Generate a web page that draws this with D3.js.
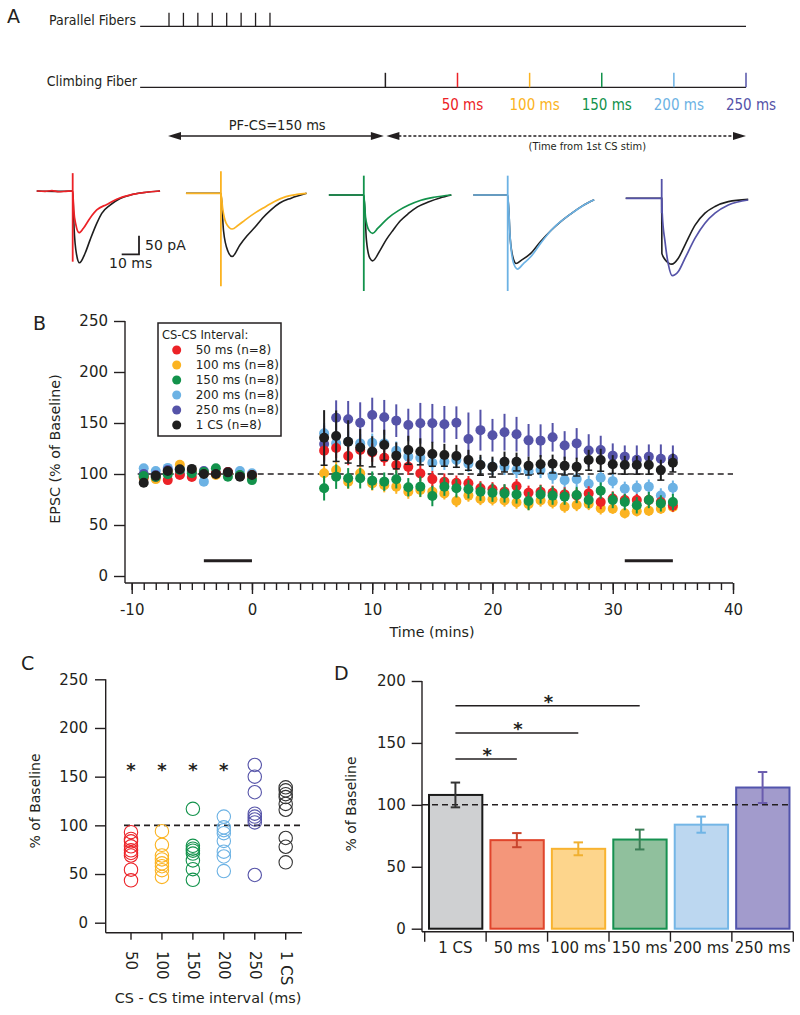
<!DOCTYPE html>
<html><head><meta charset="utf-8">
<script src="https://cdn.jsdelivr.net/npm/d3@7"></script>
<style>body{margin:0;background:#fff}svg{display:block}</style>
</head><body>
<script>
// ================= DATA =================
// Panel A: stimulation protocol (ms)
const pfPulseTimes = [0, 10, 20, 30, 40, 50, 60, 70];
const firstCsTime = 150;
const csIntervals = [50, 100, 150, 200, 250];
const intervalLabels = ["50 ms", "100 ms", "150 ms", "200 ms", "250 ms"];
const seriesColors = ["#ec2227", "#fbb321", "#12924b", "#6cb2e4", "#5553a8"];
const controlColor = "#1e1e1e";

// Panel A: example EPSC traces, [ms from CS stim, pA from baseline]
const trace50  = [[-20.8,0],[-16,-1],[-12,1],[-8,-2],[-4,-1],[0,0],[0.6,-50],[1.8,-90],[3.7,-112],[6.2,-100],[10,-73],[13.9,-51],[19.7,-36],[25.4,-22],[33,-11],[40.8,-4.5],[50.5,0]];
const ctrl50   = [[-20.8,0],[-10,-1],[0,0],[0.8,-100],[2.2,-170],[3.9,-193],[7.1,-168],[10,-132],[13.9,-87],[16.8,-60],[21.6,-38],[27.4,-20],[35,-9],[50.5,0]];
const trace100 = [[-20.2,0],[-10,0],[0,0],[1,-40],[3,-80],[6.5,-96],[10,-86],[13.9,-72],[20,-52],[25.8,-36],[31,-22],[37.6,-9],[44,-3],[49.5,0]];
const ctrl100  = [[-20.2,0],[0,0],[1.5,-100],[4,-155],[6.5,-170],[11,-139],[15,-115],[19.9,-90],[24,-67],[28.8,-45],[34,-26],[40.6,-13],[49.5,0]];
const trace150 = [[-20.2,0],[0,0],[1,-60],[3,-95],[5.1,-103],[8,-90],[14,-62],[20,-42],[26,-27],[33,-14],[40.6,-6],[50.6,0]];
const ctrl150  = [[-20.2,0],[0,0],[1.5,-120],[3.5,-170],[5.1,-177],[9.5,-148],[13,-120],[17,-94],[21,-70],[26,-49],[31,-32],[37.7,-18],[44,-8],[50.6,0]];
const trace200 = [[-19.9,0],[0,0],[1.5,-120],[3.5,-185],[5.7,-199],[9,-185],[13.3,-166],[19,-130],[25.3,-94],[31,-70],[37,-49],[43,-30],[50,-13]];
const ctrl200  = [[-19.9,0],[0,0],[1.5,-120],[3.5,-175],[4.8,-184],[8,-175],[13.3,-157],[19,-125],[25.3,-94],[31,-70],[37,-49],[43,-30],[50,-13]];
const trace250 = [[-20.8,0],[0,0],[0.3,-40],[1.9,-116],[3.9,-179],[6.1,-208],[9.6,-197],[13.5,-161],[19.3,-107],[25,-67],[30.8,-40],[38.5,-18],[50,-4.5]];
const ctrl250  = [[-20.8,0],[0,0],[0.1,-148],[2,-165],[5.8,-177],[9.6,-161],[13.5,-125],[19.3,-72],[25,-40],[30.8,-22],[38.5,-9],[50,-3]];
const stimArtifactTop = [48, 59, 52, 52, 52];
const stimArtifactBottom = [-190, -250, -258, -258, -40];
const scaleBarMs = 10, scaleBarPa = 50;

// Panel B: EPSC time course (% of baseline)
const timesB = [-9,-8,-7,-6,-5,-4,-3,-2,-1,0, 6,7,8,9,10,11,12,13,14,15,16,17,18,19,20,21,22,23,24,25,26,27,28,29,30,31,32,33,34,35];
const epsc50  = [97,97,94,99,97,100.7,100.7,102,98.4,99, 122.9,125.5,117.6,123.5,121,116,108.8,107,100.6,95,92.5,91.5,91,86,85,82.7,88,81.6,82.6,81.6,80,79,81,72.5,76,74.5,74.5,74.5,72.5,69];
const epsc100 = [96,95,102,109,104,101,99,101,98,98, 100.7,104,92.5,100.7,90.8,89,87.6,82.7,84.3,82.7,81,73.5,78.8,75.5,75.2,74,72,70.5,74,72.2,68,69.6,70.6,66.3,66,61.5,63.5,64,66,67.6];
const epsc150 = [98,97,99.7,104,100.7,102,105.6,97.4,99,94, 86,97.4,95.8,95.8,93.5,92.5,94.8,87,87.6,78.4,87.6,86,85,82.7,81.7,81,80,73.5,80,78.8,77.8,79.4,74.5,83.7,74.5,72.5,69.3,74.5,71.2,72.5];
const epsc200 = [105.6,103,106,105.6,103,92.5,100.7,100.7,103,100.7, 139.9,130,131.7,130,130.7,130,122.9,117,116,111,112,113.7,110,108.8,107.2,107,104,103,104,98.4,94,95,90.5,96.4,93,85.5,86.6,87.6,79,86.6];
const epsc250 = [100,99,104,100,102,103,100,102,98.4,97.4, 129.4,155.2,153.6,150.3,157.8,155.6,152.3,148,149.7,149.7,148.7,150.3,134.3,143,138,141,139,133,132.7,136,128,130,123,123.5,118,117,114,117,115,115];
const epsc1CS = [91.5,98.4,103,104.6,105,100,100,101.6,97.4,99, 135.6,137.3,131.7,126,122,128.4,118,123.5,122,119.6,118.6,117.6,113.7,108.8,107,112,112,108,109.6,110,108,107,113.7,113.7,109.5,108.8,108.8,108.8,104,111];
const sem50   = [3,3,3,3,3,3,3,3,3,3, 10,10,9,9,9,8,8,8,8,8,8,7,7,7,7,7,7,7,7,7,7,7,7,7,7,6,6,6,6,6];
const sem100  = [3,3,3,3,3,3,3,3,3,3, 8,8,7,7,7,7,7,7,7,7,6,6,6,6,6,6,6,6,6,6,6,6,6,6,5,5,5,5,5,5];
const sem150  = [3,3,3,3,3,3,3,3,3,3, 12,12,10,10,9,9,9,9,10,10,9,9,9,9,9,9,9,9,9,9,8,8,8,8,8,8,8,8,8,8];
const sem200  = [3,3,3,3,3,3,3,3,3,3, 10,10,10,9,9,9,9,9,8,8,8,8,8,8,8,8,8,8,8,8,8,8,8,8,7,7,7,7,7,7];
const sem250  = [3,3,3,3,3,3,3,3,3,3, 18,17,18,20,17,17,16,16,20,19,18,16,26,20,16,18,17,16,16,14,14,15,16,14,12,11,14,12,14,13];
const sem1CS  = [3,3,3,3,3,3,3,3,3,3, 27,25,21,18,15,15,13,14,13,12,11,11,10,10,10,10,9,9,9,9,9,9,10,11,9,9,9,9,10,9];
const legendLabelsB = ["50 ms (n=8)", "100 ms (n=8)", "150 ms (n=8)", "200 ms (n=8)", "250 ms (n=8)", "1 CS (n=8)"];
const analysisWindows = [[-4, 0], [31, 35]];
const yTicksB = [0, 50, 100, 150, 200, 250];
const xTicksB = [-10, 0, 10, 20, 30, 40];

// Panel C: individual cells (% of baseline)
const catsC = ["50", "100", "150", "200", "250", "1 CS"];
const cellsC = [
  [93, 86, 83.6, 78.4, 74.3, 71.6, 69, 54.5, 43.5],
  [94, 80, 69, 65, 61, 58, 54, 47],
  [117, 79, 76, 74, 71, 64, 55, 44],
  [109, 98, 95, 92, 84, 73, 68, 53],
  [162, 150, 134, 112, 109, 106, 103, 49],
  [139, 136, 132, 129, 122, 116, 87, 78, 62]
];
const sigC = [true, true, true, true, false, false];
const colorsC = ["#ec2227", "#fbb321", "#12924b", "#6cb2e4", "#5553a8", "#333333"];
const yTicksC = [0, 50, 100, 150, 200, 250];

// Panel D: mean ± SEM
const catsD = ["1 CS", "50 ms", "100 ms", "150 ms", "200 ms", "250 ms"];
const meansD = [108, 71.5, 64.5, 72, 84, 114];
const semD = [10, 5.7, 5.2, 8, 6.5, 12.5];
const fillD = ["#cfd0d2", "#f4967a", "#fdd58c", "#90c09d", "#bcd7f0", "#a29bcc"];
const strokeD = ["#1a1a1a", "#e0452c", "#f8b330", "#169150", "#74b6e6", "#5254ac"];
const errColD = ["#333333", "#c8452e", "#f0b030", "#3b7d55", "#6fb4e5", "#6a5cae"];
const sigPairsD = [["1 CS", "50 ms", 137], ["1 CS", "100 ms", 158], ["1 CS", "150 ms", 180]];
const yTicksD = [0, 50, 100, 150, 200];

// ================= DRAW =================
const ink = "#231f20";
const cond = "'DejaVu Sans Condensed','Liberation Sans Narrow','Roboto Condensed',sans-serif";
const svg = d3.select("body").append("svg").attr("width", 800).attr("height", 1015)
  .attr("font-family", "'DejaVu Sans',sans-serif");
svg.append("rect").attr("width", 800).attr("height", 1015).attr("fill", "#fff");
const plain = d => String(d);

function panelLetter(t, x, y) {
  svg.append("text").text(t).attr("x", x).attr("y", y).attr("font-size", 19).attr("fill", ink);
}

// ---------- Panel A ----------
panelLetter("A", 7, 23);
const xA = d3.scaleLinear().domain([0, 400]).range([169, 746]);
const pfY = 26.3, cfY = 87.3;
const gA = svg.append("g");
gA.append("line").attr("x1", xA(-20)).attr("x2", xA(400)).attr("y1", pfY).attr("y2", pfY).attr("stroke", ink).attr("stroke-width", 1.3);
gA.selectAll(".pf").data(pfPulseTimes).join("line").attr("class", "pf")
  .attr("x1", d => xA(d)).attr("x2", d => xA(d)).attr("y1", pfY - 13.5).attr("y2", pfY)
  .attr("stroke", ink).attr("stroke-width", 1.3);
gA.append("line").attr("x1", xA(-20)).attr("x2", xA(400)).attr("y1", cfY).attr("y2", cfY).attr("stroke", ink).attr("stroke-width", 1.3);
const cfTicks = [{ t: firstCsTime, c: ink }].concat(csIntervals.map((iv, i) => ({ t: firstCsTime + iv, c: seriesColors[i] })));
gA.selectAll(".cf").data(cfTicks).join("line").attr("class", "cf")
  .attr("x1", d => xA(d.t)).attr("x2", d => xA(d.t)).attr("y1", cfY - 14.5).attr("y2", cfY)
  .attr("stroke", d => d.c).attr("stroke-width", 1.5);
gA.append("text").text("Parallel Fibers").attr("x", 136).attr("y", 25).attr("text-anchor", "end")
  .attr("font-family", cond).attr("font-size", 14).attr("fill", ink);
gA.append("text").text("Climbing Fiber").attr("x", 137).attr("y", 86).attr("text-anchor", "end")
  .attr("font-family", cond).attr("font-size", 14).attr("fill", ink);
gA.selectAll(".ivl").data(csIntervals).join("text").attr("class", "ivl")
  .text((d, i) => intervalLabels[i]).attr("x", d => xA(firstCsTime + d) + 5).attr("y", 110)
  .attr("text-anchor", "middle").attr("font-family", cond).attr("font-size", 15).attr("fill", (d, i) => seriesColors[i]);

// arrows
const arrY = 136;
function arrowHead(xTip, dir) {
  gA.append("path").attr("d", `M${xTip},${arrY} L${xTip - dir * 13},${arrY - 4} L${xTip - dir * 13},${arrY + 4} Z`).attr("fill", ink);
}
gA.append("line").attr("x1", xA(0) + 6).attr("x2", xA(firstCsTime) - 6).attr("y1", arrY).attr("y2", arrY).attr("stroke", ink).attr("stroke-width", 1.5);
arrowHead(xA(0) - 1, -1); arrowHead(xA(firstCsTime) - 1.5, 1);
gA.append("line").attr("x1", xA(firstCsTime) + 8).attr("x2", xA(400) - 8).attr("y1", arrY).attr("y2", arrY)
  .attr("stroke", ink).attr("stroke-width", 1.5).attr("stroke-dasharray", "3,2");
arrowHead(xA(firstCsTime) + 1, -1); arrowHead(xA(400), 1);
gA.append("text").text("PF-CS=150 ms").attr("x", (xA(0) + xA(firstCsTime)) / 2).attr("y", 130)
  .attr("text-anchor", "middle").attr("font-family", cond).attr("font-size", 14.5).attr("fill", ink);
gA.append("text").text("(Time from 1st CS stim)").attr("x", xA(290)).attr("y", 150)
  .attr("text-anchor", "middle").attr("font-family", cond).attr("font-size", 11).attr("fill", ink);

// traces
const xT = d3.scaleLinear().domain([0, 10]).range([0, 17.3]);
const yT = d3.scaleLinear().domain([0, -50]).range([0, 18.6]);
const traceLine = d3.line().x(d => xT(d[0])).y(d => yT(d[1])).curve(d3.curveMonotoneX);
const tracePairs = [[ctrl50, trace50], [ctrl100, trace100], [ctrl150, trace150], [ctrl200, trace200], [ctrl250, trace250]];
const traceOrigins = [[72.7, 191], [220.9, 193.3], [363.8, 195], [507.7, 195], [661.7, 198.3]];
tracePairs.forEach(([ctrl, tr], i) => {
  const g = svg.append("g").attr("transform", `translate(${traceOrigins[i][0]},${traceOrigins[i][1]})`);
  g.append("path").attr("d", traceLine(ctrl)).attr("fill", "none").attr("stroke", controlColor).attr("stroke-width", 1.6);
  g.append("path").attr("d", traceLine(tr)).attr("fill", "none").attr("stroke", seriesColors[i]).attr("stroke-width", 1.7);
  g.append("line").attr("x1", 0).attr("x2", 0).attr("y1", yT(stimArtifactTop[i])).attr("y2", yT(stimArtifactBottom[i]))
    .attr("stroke", seriesColors[i]).attr("stroke-width", 1.8);
});
// scale bar
const sb = svg.append("g").attr("transform", "translate(139,254.3)");
sb.append("path").attr("d", `M${xT(-scaleBarMs)},0 L0,0 L0,${yT(-scaleBarPa) * -1}`)
  .attr("fill", "none").attr("stroke", ink).attr("stroke-width", 1.8);
svg.append("text").text("50 pA").attr("x", 145).attr("y", 250).attr("font-size", 14).attr("fill", ink);
svg.append("text").text("10 ms").attr("x", 109).attr("y", 268).attr("font-size", 14).attr("fill", ink);

// ---------- Panel B ----------
panelLetter("B", 33, 330);
const xB = d3.scaleLinear().domain([-10, 40]).range([131.7, 733]);
const yB = d3.scaleLinear().domain([0, 250]).range([576, 321]);
const axB = 583, ayB = 125;
const gB = svg.append("g");
gB.append("line").attr("x1", ayB).attr("x2", ayB).attr("y1", yB(250)).attr("y2", axB).attr("stroke", ink).attr("stroke-width", 1.4);
gB.append("line").attr("x1", ayB).attr("x2", xB(40)).attr("y1", axB).attr("y2", axB).attr("stroke", ink).attr("stroke-width", 1.4);
function styleAxis(g, size) {
  g.select(".domain").remove();
  g.selectAll("line").attr("stroke", ink).attr("stroke-width", 1.4);
  g.selectAll("text").attr("font-size", size).attr("fill", ink).attr("font-family", "'DejaVu Sans',sans-serif");
}
gB.append("g").attr("transform", `translate(${ayB},0)`)
  .call(d3.axisLeft(yB).tickValues(yTicksB).tickSize(11).tickPadding(6).tickFormat(plain)).call(g => styleAxis(g, 15));
gB.append("g").attr("transform", `translate(0,${axB})`)
  .call(d3.axisBottom(xB).ticks(50).tickSize(7).tickFormat("")).call(g => styleAxis(g, 15));
gB.append("g").attr("transform", `translate(0,${axB})`)
  .call(d3.axisBottom(xB).tickValues(xTicksB).tickSize(11).tickPadding(10).tickFormat(plain)).call(g => styleAxis(g, 15));
gB.append("line").attr("x1", xB(-9.5)).attr("x2", xB(40)).attr("y1", yB(100)).attr("y2", yB(100))
  .attr("stroke", ink).attr("stroke-width", 1.5).attr("stroke-dasharray", "6,4");
gB.selectAll(".win").data(analysisWindows).join("line").attr("class", "win")
  .attr("x1", d => xB(d[0])).attr("x2", d => xB(d[1])).attr("y1", yB(15)).attr("y2", yB(15))
  .attr("stroke", ink).attr("stroke-width", 3);
gB.append("text").text("Time (mins)").attr("x", 432).attr("y", 637).attr("text-anchor", "middle").attr("font-size", 14.3).attr("fill", ink);
gB.append("text").text("EPSC (% of Baseline)").attr("transform", `translate(60,449) rotate(-90)`)
  .attr("text-anchor", "middle").attr("font-size", 14.3).attr("fill", ink);

const bSeries = [
  { v: epsc200, e: sem200, c: seriesColors[3] },
  { v: epsc250, e: sem250, c: seriesColors[4] },
  { v: epsc100, e: sem100, c: seriesColors[1] },
  { v: epsc50, e: sem50, c: seriesColors[0] },
  { v: epsc150, e: sem150, c: seriesColors[2] },
  { v: epsc1CS, e: sem1CS, c: controlColor, caps: true }
];
bSeries.forEach(s => {
  const g = gB.append("g");
  const pts = timesB.map((t, i) => ({ t, v: s.v[i], e: s.e[i] }));
  g.selectAll(".eb").data(pts).join("line").attr("x1", d => xB(d.t)).attr("x2", d => xB(d.t))
    .attr("y1", d => yB(d.v - d.e)).attr("y2", d => yB(d.v + d.e)).attr("stroke", s.c).attr("stroke-width", 2);
  if (s.caps) {
    g.selectAll(".cap").data(pts.filter(d => d.t > 0)).join("line").attr("x1", d => xB(d.t) - 3.5).attr("x2", d => xB(d.t) + 3.5)
      .attr("y1", d => yB(d.v - d.e)).attr("y2", d => yB(d.v - d.e)).attr("stroke", s.c).attr("stroke-width", 1.5);
  }
  g.selectAll("circle").data(pts).join("circle").attr("cx", d => xB(d.t)).attr("cy", d => yB(d.v)).attr("r", 5).attr("fill", s.c);
});
// legend
const lg = gB.append("g");
lg.append("rect").attr("x", 158).attr("y", 323).attr("width", 123).attr("height", 113).attr("fill", "#fff").attr("stroke", ink).attr("stroke-width", 1.5);
lg.append("text").text("CS-CS Interval:").attr("x", 162).attr("y", 339).attr("font-size", 11.5).attr("fill", ink);
const legendColors = seriesColors.concat([controlColor]);
legendLabelsB.forEach((lab, i) => {
  const cy = 350 + i * 15;
  lg.append("circle").attr("cx", 176.7).attr("cy", cy).attr("r", 4.5).attr("fill", legendColors[i]);
  lg.append("text").text(lab).attr("x", 195.7).attr("y", cy + 4.3).attr("font-size", 12).attr("fill", ink);
});

// ---------- Panel C ----------
panelLetter("C", 21, 670);
const xC = d3.scalePoint().domain(catsC).range([131, 285.7]);
const yC = d3.scaleLinear().domain([0, 250]).range([922.7, 679.3]);
const axC = 932.7, ayC = 105.7;
const gC = svg.append("g");
gC.append("line").attr("x1", ayC).attr("x2", ayC).attr("y1", yC(250)).attr("y2", axC).attr("stroke", ink).attr("stroke-width", 1.4);
gC.append("line").attr("x1", ayC).attr("x2", 302).attr("y1", axC).attr("y2", axC).attr("stroke", ink).attr("stroke-width", 1.4);
gC.append("g").attr("transform", `translate(${ayC},0)`)
  .call(d3.axisLeft(yC).tickValues(yTicksC).tickSize(10.7).tickPadding(7).tickFormat(plain)).call(g => styleAxis(g, 15));
gC.selectAll(".xt").data(catsC).join("line").attr("class", "xt").attr("x1", d => xC(d)).attr("x2", d => xC(d))
  .attr("y1", axC).attr("y2", axC + 7).attr("stroke", ink).attr("stroke-width", 1.4);
gC.selectAll(".xl").data(catsC).join("text").attr("class", "xl").text(d => d)
  .attr("transform", d => `translate(${xC(d)},951) rotate(90)`).attr("dominant-baseline", "central")
  .attr("font-size", 15).attr("fill", ink);
gC.append("line").attr("x1", 124).attr("x2", 302).attr("y1", yC(100)).attr("y2", yC(100))
  .attr("stroke", ink).attr("stroke-width", 1.6).attr("stroke-dasharray", "6,4");
cellsC.forEach((vals, i) => {
  gC.append("g").selectAll("circle").data(vals).join("circle").attr("cx", xC(catsC[i])).attr("cy", d => yC(d))
    .attr("r", 6.7).attr("fill", "none").attr("stroke", colorsC[i]).attr("stroke-width", 1.1);
});
gC.selectAll(".star").data(catsC.filter((c, i) => sigC[i])).join("text").attr("class", "star").text("*")
  .attr("x", d => xC(d)).attr("y", yC(160) + 9).attr("text-anchor", "middle").attr("font-size", 18).attr("font-weight", "bold").attr("fill", ink);
gC.append("text").text("CS - CS time interval (ms)").attr("x", 208).attr("y", 1003).attr("text-anchor", "middle").attr("font-size", 14.4).attr("fill", ink);
gC.append("text").text("% of Baseline").attr("transform", "translate(39.5,801) rotate(-90)").attr("text-anchor", "middle").attr("font-size", 14).attr("fill", ink);

// ---------- Panel D ----------
panelLetter("D", 334, 680);
const xD = d3.scaleBand().domain(catsD).range([424.7, 793.3]).padding(0);
const yD = d3.scaleLinear().domain([0, 200]).range([928.7, 681]);
const axD = 931.7, ayD = 422;
const gD = svg.append("g");
const bw = xD.bandwidth();
gD.selectAll(".bar").data(catsD).join("rect").attr("class", "bar")
  .attr("x", d => xD(d) + bw * 0.07).attr("width", bw * 0.868)
  .attr("y", (d, i) => yD(meansD[i])).attr("height", (d, i) => yD(0) - yD(meansD[i]))
  .attr("fill", (d, i) => fillD[i]).attr("stroke", (d, i) => strokeD[i]).attr("stroke-width", 2);
gD.append("line").attr("x1", ayD).attr("x2", ayD).attr("y1", yD(200)).attr("y2", axD).attr("stroke", ink).attr("stroke-width", 1.4);
gD.append("line").attr("x1", ayD).attr("x2", 793.3).attr("y1", axD).attr("y2", axD).attr("stroke", ink).attr("stroke-width", 1.4);
gD.append("g").attr("transform", `translate(${ayD},0)`)
  .call(d3.axisLeft(yD).tickValues(yTicksD).tickSize(10.3).tickPadding(6).tickFormat(plain)).call(g => styleAxis(g, 15));
const boundaries = catsD.map(d => xD(d)).concat([xD.range()[1]]);
gD.selectAll(".xt").data(boundaries).join("line").attr("class", "xt").attr("x1", d => d).attr("x2", d => d)
  .attr("y1", axD).attr("y2", axD + 10).attr("stroke", ink).attr("stroke-width", 1.4);
gD.selectAll(".xl").data(catsD).join("text").attr("class", "xl").text(d => d)
  .attr("x", d => xD(d) + bw / 2).attr("y", 952.5).attr("text-anchor", "middle").attr("font-size", 15).attr("fill", ink);
gD.append("line").attr("x1", ayD).attr("x2", 790).attr("y1", yD(100)).attr("y2", yD(100))
  .attr("stroke", ink).attr("stroke-width", 1.5).attr("stroke-dasharray", "6,4");
catsD.forEach((c, i) => {
  const cx = xD(c) + bw / 2, lo = yD(meansD[i] - semD[i]), hi = yD(meansD[i] + semD[i]);
  const g = gD.append("g").attr("stroke", errColD[i]).attr("stroke-width", 2);
  g.append("line").attr("x1", cx).attr("x2", cx).attr("y1", lo).attr("y2", hi);
  g.append("line").attr("x1", cx - 4.7).attr("x2", cx + 4.7).attr("y1", lo).attr("y2", lo);
  g.append("line").attr("x1", cx - 4.7).attr("x2", cx + 4.7).attr("y1", hi).attr("y2", hi);
});
sigPairsD.forEach(([a, b, v]) => {
  const x1 = xD(a) + bw / 2, x2 = xD(b) + bw / 2;
  gD.append("line").attr("x1", x1).attr("x2", x2).attr("y1", yD(v)).attr("y2", yD(v)).attr("stroke", ink).attr("stroke-width", 1.6);
  gD.append("text").text("*").attr("x", (x1 + x2) / 2 + 1).attr("y", yD(v) + 2).attr("text-anchor", "middle")
    .attr("font-size", 18).attr("font-weight", "bold").attr("fill", ink);
});
gD.append("text").text("% of Baseline").attr("transform", "translate(356,804) rotate(-90)").attr("text-anchor", "middle").attr("font-size", 14).attr("fill", ink);
</script>
</body></html>
